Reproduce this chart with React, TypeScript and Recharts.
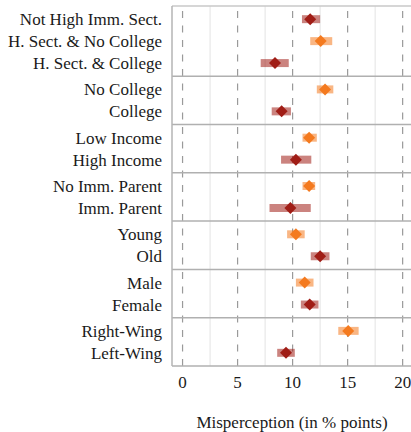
import {
  ErrorBar,
  ReferenceLine,
  Scatter,
  ScatterChart,
  XAxis,
  YAxis,
} from 'recharts';

// rows top to bottom
const labels = [
  'Not High Imm. Sect.',
  'H. Sect. & No College',
  'H. Sect. & College',
  'No College',
  'College',
  'Low Income',
  'High Income',
  'No Imm. Parent',
  'Imm. Parent',
  'Young',
  'Old',
  'Male',
  'Female',
  'Right-Wing',
  'Left-Wing',
];
const means = [11.6, 12.55, 8.4, 12.95, 9.0, 11.5, 10.3, 11.5, 9.8, 10.3, 12.5, 11.1, 11.55, 15.05, 9.4];
const lows = [10.85, 11.6, 7.1, 12.2, 8.1, 10.9, 8.95, 10.9, 7.9, 9.5, 11.65, 10.3, 10.75, 14.15, 8.6];
const highs = [12.5, 13.6, 9.65, 13.7, 9.85, 12.2, 11.7, 12.05, 11.65, 11.1, 13.35, 11.9, 12.35, 16.0, 10.2];
// true = orange, false = dark red
const isOrange = [false, true, false, true, false, true, false, true, false, true, false, true, false, true, false];
const groupSizes = [3, 2, 2, 2, 2, 2, 2];

const majorTicks = [0, 5, 10, 15, 20];
const minorTicks = [2.5, 7.5, 12.5, 17.5];

const ORANGE = '#f47a1f';
const RED = '#a01d16';
const FONT = 'Liberation Serif';
const TEXT = '#1a1a1a';

// each facet panel: rows 1 apart, 0.6 padding at both ends
const positions: number[] = [];
const boundaries: number[] = [];
let start = 0;
groupSizes.forEach((n) => {
  for (let j = 0; j < n; j++) positions.push(start + 0.6 + j);
  start += n - 1 + 1.2;
  boundaries.push(start);
});
const yMax = start;

const rows = labels.map((label, i) => ({
  label,
  value: means[i],
  pos: positions[i],
  err: [means[i] - lows[i], highs[i] - means[i]],
}));
const orangeRows = rows.filter((_, i) => isOrange[i]);
const redRows = rows.filter((_, i) => !isOrange[i]);

const diamond = (color: string) => (props: any) => {
  const {cx, cy} = props;
  const r = 6;
  return (
    <polygon
      points={`${cx},${cy - r} ${cx + r},${cy} ${cx},${cy + r} ${cx - r},${cy}`}
      fill={color}
    />
  );
};

export default function App() {
  return (
    <div
      style={{
        position: 'absolute',
        left: 0,
        top: 0,
        width: 411,
        height: 432,
        overflow: 'hidden',
        background: '#fff',
      }}
    >
      <ScatterChart
        width={430}
        height={432}
        margin={{top: 6, right: 18, bottom: 0, left: 0}}
      >
        <XAxis
          type="number"
          dataKey="value"
          domain={[-0.96, 20.85]}
          allowDataOverflow
          ticks={majorTicks}
          tickLine={false}
          axisLine={false}
          tickSize={0}
          tickMargin={10}
          height={66}
          tick={{fill: TEXT, fontSize: 17, fontFamily: FONT}}
          label={{
            value: 'Misperception (in % points)',
            position: 'insideBottom',
            offset: 4,
            fill: TEXT,
            fontSize: 17,
            fontFamily: FONT,
          }}
        />
        <YAxis
          type="number"
          dataKey="pos"
          domain={[0, yMax]}
          reversed
          allowDataOverflow
          ticks={positions}
          interval={0}
          tickFormatter={(_v, i) => labels[i]}
          width={172}
          tickLine={false}
          tickSize={0}
          tickMargin={10}
          axisLine={{stroke: '#b5b5b5', strokeWidth: 1.5}}
          tick={{fill: TEXT, fontSize: 17, fontFamily: FONT}}
        />
        {minorTicks.map((t) => (
          <ReferenceLine key={`mi${t}`} x={t} stroke="#e3e3e3" strokeWidth={1} />
        ))}
        {majorTicks.map((t) => (
          <ReferenceLine
            key={`ma${t}`}
            x={t}
            stroke="#9a9a9a"
            strokeWidth={1.2}
            strokeDasharray="7 7.5"
          />
        ))}
        <ReferenceLine y={0} stroke="#c8c8c8" strokeWidth={1.5} />
        {boundaries.map((b) => (
          <ReferenceLine key={`b${b}`} y={b} stroke="#b0b0b0" strokeWidth={1.5} />
        ))}
        <Scatter data={redRows} shape={diamond(RED)} isAnimationActive={false}>
          <ErrorBar
            dataKey="err"
            direction="x"
            width={0}
            strokeWidth={8}
            stroke={RED}
            strokeOpacity={0.55}
          />
        </Scatter>
        <Scatter data={orangeRows} shape={diamond(ORANGE)} isAnimationActive={false}>
          <ErrorBar
            dataKey="err"
            direction="x"
            width={0}
            strokeWidth={8}
            stroke={ORANGE}
            strokeOpacity={0.55}
          />
        </Scatter>
      </ScatterChart>
    </div>
  );
}
